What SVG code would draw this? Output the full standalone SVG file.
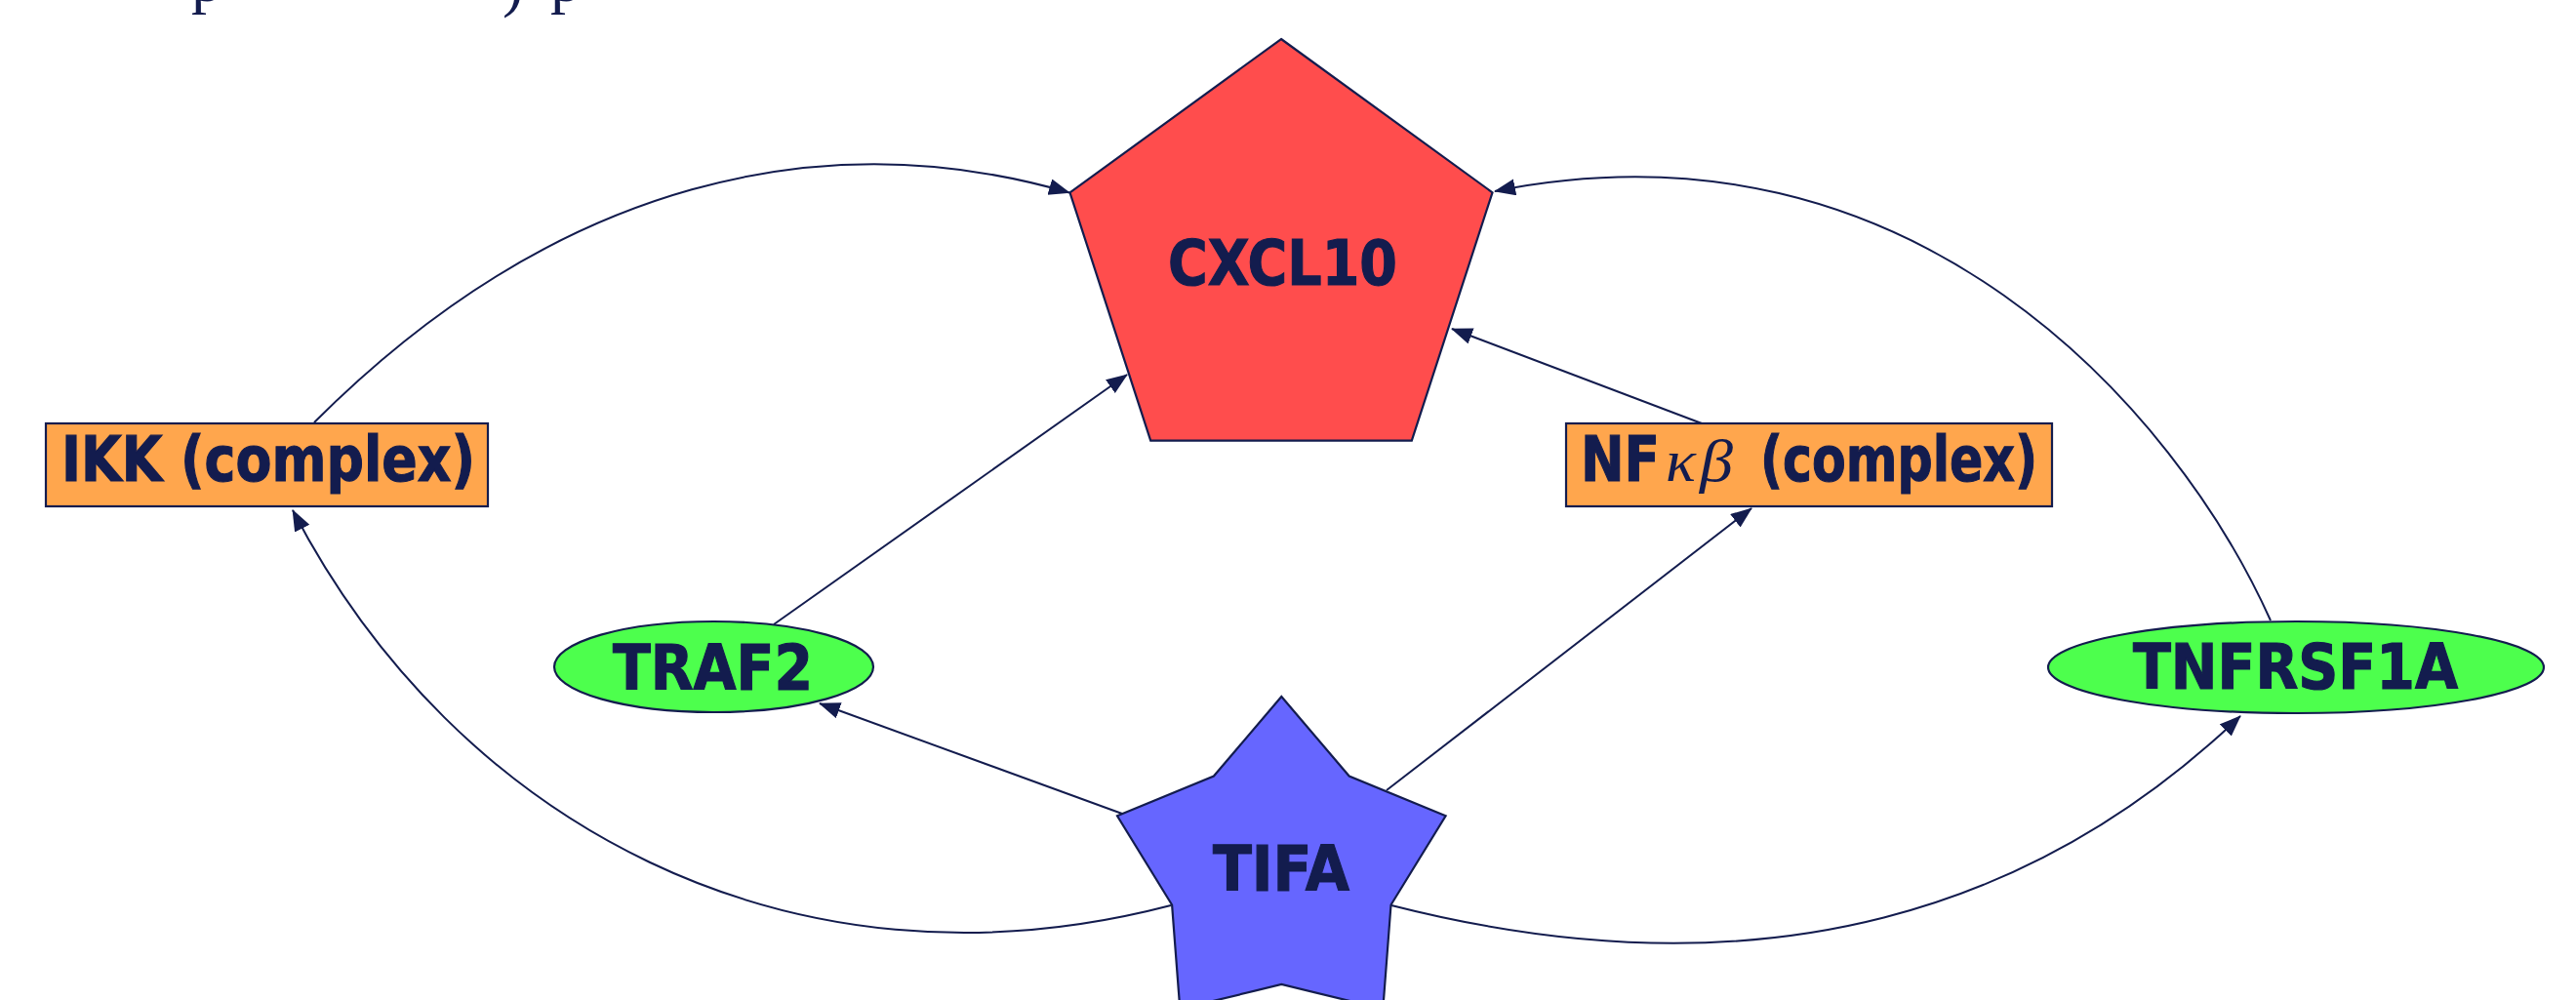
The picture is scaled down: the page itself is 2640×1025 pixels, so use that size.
<svg xmlns="http://www.w3.org/2000/svg" width="2640" height="1025" viewBox="0 0 2640 1025">
<style>
.shape { stroke:#131c4e; stroke-width:2.2; }
.lbl { font-family:"DejaVu Sans", "Liberation Sans", sans-serif; font-weight:bold; font-size:64px; fill:#131c4e; stroke:#131c4e; stroke-width:1.2; }
.math { font-family:"Liberation Serif", "DejaVu Serif", serif; font-style:italic; font-size:62px; fill:#131c4e; }
.cap { font-family:"Liberation Serif", serif; font-size:64px; fill:#131c4e; }
.edge { fill:none; stroke:#131c4e; stroke-width:2; marker-end:url(#arr); }
</style>
<defs>
<marker id="arr" markerUnits="userSpaceOnUse" markerWidth="24" markerHeight="18" refX="21" refY="8.5" orient="auto">
<path d="M0,0 L22,8.5 L0,17 z" fill="#131c4e"/>
</marker>
</defs>

<g id="caption-fragment">
<text class="cap" x="196" y="1">p</text>
<text class="cap" x="515" y="5">)</text>
<text class="cap" x="564" y="1">p</text>
</g>

<g id="connectors">
<path id="e-ikk-cxcl10" class="edge" d="M322,433 C572,183 846,125 1096,197.5"/>
<path id="e-tifa-ikk" class="edge" d="M1200,928 C809,1030 466,843 300,523"/>
<path id="e-tifa-tnfrsf1a" class="edge" d="M1426,928 C1814,1027 2094,927 2296,734"/>
<path id="e-tnfrsf1a-cxcl10" class="edge" d="M2327,636 C2230,420 1960,110 1532,196"/>
<path id="e-tifa-traf2" class="edge" d="M1150,834 L840,721"/>
<path id="e-tifa-nf" class="edge" d="M1421,810 L1795,521"/>
<path id="e-traf2-cxcl10" class="edge" d="M793,640 L1155,384"/>
<path id="e-nf-cxcl10" class="edge" d="M1744,434 L1488,337"/>
</g>

<g id="CXCL10">
<polygon class="shape" fill="#ff4d4d" points="1313,40 1529.5,197.3 1446.8,451.7 1179.2,451.7 1096.5,197.3"/>
<text class="lbl" x="1197" y="292" textLength="235" lengthAdjust="spacingAndGlyphs">CXCL10</text>
</g>

<g id="IKK">
<rect class="shape" fill="#ffa64d" x="47" y="434" width="453" height="85"/>
<text class="lbl" x="63" y="493" textLength="424" lengthAdjust="spacingAndGlyphs">IKK (complex)</text>
</g>

<g id="NFkB">
<rect class="shape" fill="#ffa64d" x="1605" y="434" width="498" height="85"/>
<text class="lbl" x="1620" y="493" textLength="81" lengthAdjust="spacingAndGlyphs">NF</text>
<text class="math" x="1707" y="493" textLength="31" lengthAdjust="spacingAndGlyphs">κ</text>
<text class="math" x="1742" y="493" textLength="34" lengthAdjust="spacingAndGlyphs">β</text>
<text class="lbl" x="1804" y="493" textLength="284" lengthAdjust="spacingAndGlyphs">(complex)</text>
</g>

<g id="TRAF2">
<ellipse class="shape" fill="#4dff4d" cx="731.5" cy="683.5" rx="163.5" ry="46.5"/>
<text class="lbl" x="628" y="707" textLength="205" lengthAdjust="spacingAndGlyphs">TRAF2</text>
</g>

<g id="TNFRSF1A">
<ellipse class="shape" fill="#4dff4d" cx="2353" cy="684" rx="254" ry="47"/>
<text class="lbl" x="2186" y="706" textLength="333" lengthAdjust="spacingAndGlyphs">TNFRSF1A</text>
</g>

<g id="TIFA">
<polygon class="shape" fill="#6666ff" points="1313.3,714 1382.7,795.5 1481.6,836.3 1425.5,927.5 1417.3,1034.2 1313.3,1009 1209.3,1034.2 1201.1,927.5 1145,836.3 1243.9,795.5"/>
<text class="lbl" x="1243" y="913" textLength="140" lengthAdjust="spacingAndGlyphs">TIFA</text>
</g>
</svg>
